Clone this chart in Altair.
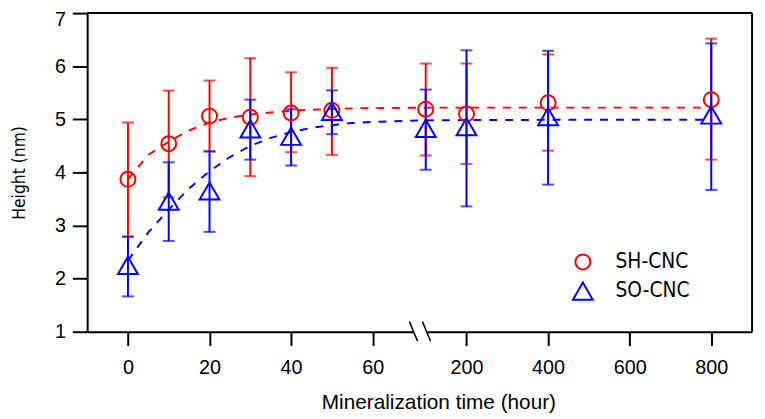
import altair as alt
import pandas as pd

# ---- data ----
hours = [0, 10, 20, 30, 40, 50, 100, 200, 400, 800]
sh_mean = [3.87, 4.54, 5.06, 5.04, 5.12, 5.17, 5.19, 5.10, 5.31, 5.37]
sh_low = [2.79, 3.53, 4.39, 3.93, 4.38, 4.33, 4.32, 4.16, 4.41, 4.24]
sh_high = [4.94, 5.54, 5.73, 6.15, 5.885, 5.97, 6.05, 6.05, 6.22, 6.52]
so_mean = [2.25, 3.46, 3.65, 4.82, 4.68, 5.15, 4.83, 4.86, 5.05, 5.08]
so_low = [1.665, 2.71, 2.88, 4.24, 4.13, 4.72, 4.05, 3.36, 3.77, 3.67]
so_high = [2.79, 4.19, 4.40, 5.37, 5.19, 5.545, 5.56, 6.30, 6.29, 6.43]

# fitted (dashed) curves
fit_hours = [0, 5, 10, 15, 20, 25, 30, 35, 40, 45, 50, 55, 60, 100, 200, 400, 800]
sh_fit = [3.87, 4.33, 4.58, 4.79, 4.94, 5.03, 5.09, 5.13, 5.16, 5.18, 5.195, 5.205, 5.21, 5.22, 5.22, 5.22, 5.22]
so_fit = [2.34, 2.87, 3.30, 3.70, 4.02, 4.29, 4.50, 4.65, 4.76, 4.84, 4.89, 4.93, 4.95, 4.98, 4.985, 4.99, 4.99]

series = ["SH-CNC", "SO-CNC"]
colors = ["#ff0000", "#0000ff"]
shapes = ["circle", "triangle-up"]
x_tick_hours = [0, 20, 40, 60, 200, 400, 600, 800]

# broken axis: 0-60 linear, then 1/10 scale after the break
BREAK_OFFSET = 63


def axpos(h):
    return h if h <= 60 else BREAK_OFFSET + h / 10


rows = []
for s, m, lo, hi in [("SH-CNC", sh_mean, sh_low, sh_high), ("SO-CNC", so_mean, so_low, so_high)]:
    for h, mv, l, u in zip(hours, m, lo, hi):
        rows.append({"series": s, "x": axpos(h), "mean": mv, "low": l, "high": u})
pts = pd.DataFrame(rows)

caps = pd.concat([
    pts[["series", "x", "low"]].rename(columns={"low": "y"}),
    pts[["series", "x", "high"]].rename(columns={"high": "y"}),
])

fit_rows = []
for s, f in [("SH-CNC", sh_fit), ("SO-CNC", so_fit)]:
    for i, (h, v) in enumerate(zip(fit_hours, f)):
        fit_rows.append({"series": s, "x": axpos(h), "y": v, "order": i})
fits = pd.DataFrame(fit_rows)

XDOM = [-10, 153]
YDOM = [1, 7]

color_scale = alt.Scale(domain=series, range=colors)
shape_scale = alt.Scale(domain=series, range=shapes)

x_enc = alt.X(
    "x:Q",
    scale=alt.Scale(domain=XDOM, nice=False, zero=False),
    axis=alt.Axis(
        title="Mineralization time (hour)",
        values=[axpos(h) for h in x_tick_hours],
        labelExpr="datum.value <= 60 ? datum.value : round((datum.value - 63) * 10)",
        tickSize=14, tickWidth=2, tickColor="black",
        domain=True, domainColor="black", domainWidth=2,
        labelFont="Liberation Sans", labelFontSize=20, labelColor="black",
        labelPadding=12,
        titleFont="Liberation Sans", titleFontSize=21, titleFontWeight="normal",
        titleColor="black", titleX=355, titleY=78, titleBaseline="alphabetic",
        titleAnchor="start", titleAlign="center",
        grid=False,
    ),
)

y_axis = alt.Axis(
    title="Height (nm)",
    values=[1, 2, 3, 4, 5, 6, 7],
    format="d",
    tickSize=15, tickWidth=2, tickColor="black",
    domain=True, domainColor="black", domainWidth=2,
    labelFont="Liberation Sans", labelFontSize=20, labelColor="black",
    labelPadding=7,
    labelOffset={"condition": {"test": "datum.value == 7", "value": 7}, "value": 0},
    titleFont="DejaVu Sans Condensed", titleFontSize=17.5, titleFontWeight="normal",
    titleColor="black", titleX=-68, titleY=161, titleAngle=270,
    titleBaseline="middle", titleAlign="center", titleAnchor="start",
    grid=False,
)
y_scale = alt.Scale(domain=YDOM, nice=False, zero=False)

# axis carrier layer (invisible)
base = alt.Chart(fits).mark_point(opacity=0).encode(
    x=x_enc, y=alt.Y("y:Q", scale=y_scale, axis=y_axis)
)

layers = [base]
for s, c in zip(series, colors):
    fsub = fits[fits.series == s]
    layers.append(
        alt.Chart(fsub).mark_line(strokeDash=[8, 8], strokeWidth=2, color=c).encode(
            x="x:Q", y="y:Q", order="order:Q"
        )
    )
for s, c in zip(series, colors):
    psub = pts[pts.series == s]
    csub = caps[caps.series == s]
    layers.append(
        alt.Chart(psub).mark_rule(strokeWidth=2, color=c).encode(x="x:Q", y="low:Q", y2="high:Q")
    )
    layers.append(
        alt.Chart(csub).mark_tick(orient="horizontal", size=12, thickness=2, color=c).encode(
            x="x:Q", y="y:Q"
        )
    )

points = alt.Chart(pts).mark_point(filled=False, strokeWidth=2, opacity=1).encode(
    x="x:Q",
    y="mean:Q",
    color=alt.Color(
        "series:N", scale=color_scale,
        legend=alt.Legend(
            title=None, orient="none", legendX=490, legendY=241,
            labelFont="DejaVu Sans Condensed", labelFontSize=21, labelColor="black",
            symbolSize=225, symbolStrokeWidth=2,
            labelOffset=22, rowPadding=4, padding=0,
        ),
    ),
    shape=alt.Shape("series:N", scale=shape_scale),
    size=alt.Size("series:N", scale=alt.Scale(domain=series, range=[230, 400]), legend=None),
)
layers.append(points)

# top and right frame lines
layers.append(alt.Chart(pd.DataFrame({"y": [YDOM[1]]})).mark_rule(color="black", strokeWidth=2).encode(y="y:Q"))
layers.append(alt.Chart(pd.DataFrame({"x": [XDOM[1]]})).mark_rule(color="black", strokeWidth=2).encode(x="x:Q"))

# axis break: gap and two slashes
layers.append(alt.Chart(pd.DataFrame({"x": [69.9], "x2": [73.2], "y": [1.0]})).mark_rule(
    color="white", strokeWidth=5
).encode(x="x:Q", x2="x2:Q", y="y:Q"))
layers.append(alt.Chart(pd.DataFrame({
    "x": [69.0, 72.2], "x2": [71.0, 74.2], "y": [1.19, 1.19], "y2": [0.82, 0.82]
})).mark_rule(color="black", strokeWidth=1.5).encode(x="x:Q", x2="x2:Q", y="y:Q", y2="y2:Q"))

chart = alt.layer(*layers).properties(
    width=672, height=322,
    autosize=alt.AutoSizeParams(type="none"),
    padding={"left": 80, "top": 3, "right": 5, "bottom": 80},
).configure_view(stroke=None).configure(background="white")

chart.save("out.html", embed_options={"renderer": "svg", "actions": False})
